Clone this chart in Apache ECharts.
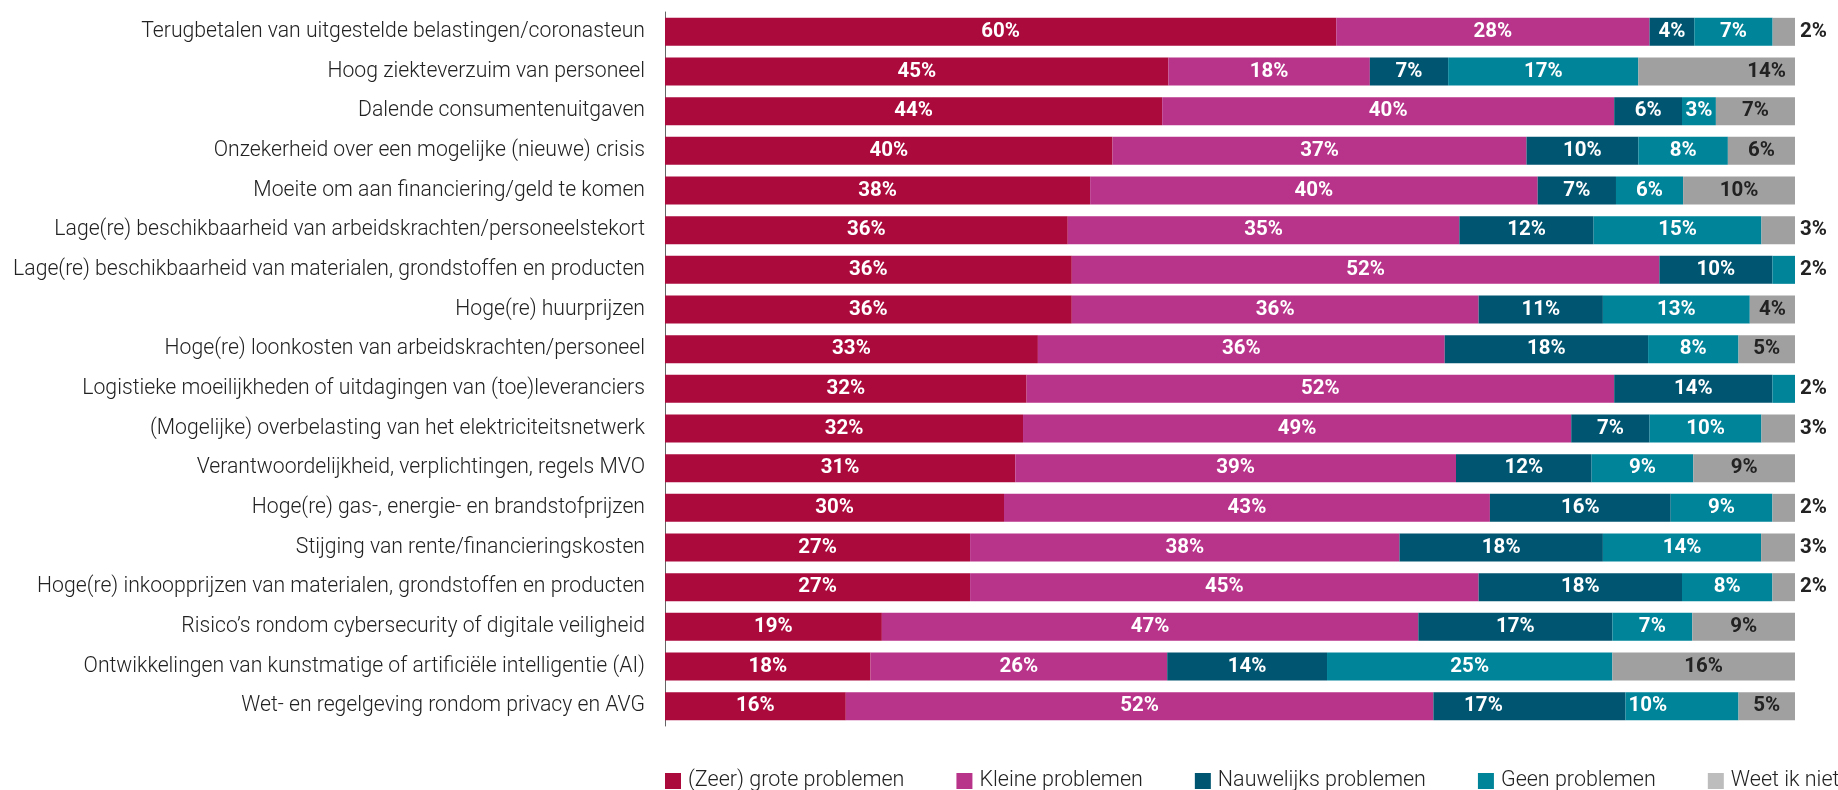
<!DOCTYPE html>
<html>
<head>
<meta charset="utf-8">
<script src="https://cdn.jsdelivr.net/npm/echarts@6/dist/echarts.min.js"></script>
<style>
  html, body { margin: 0; padding: 0; background: #fff; }
  #chart { width: 1838px; height: 790px; }
</style>
</head>
<body>
<div id="chart"></div>
<script>
// Knelpunten, top to bottom
const categories = [
  'Terugbetalen van uitgestelde belastingen/coronasteun',
  'Hoog ziekteverzuim van personeel',
  'Dalende consumentenuitgaven',
  'Onzekerheid over een mogelijke (nieuwe) crisis',
  'Moeite om aan financiering/geld te komen',
  'Lage(re) beschikbaarheid van arbeidskrachten/personeelstekort',
  'Lage(re) beschikbaarheid van materialen, grondstoffen en producten',
  'Hoge(re) huurprijzen',
  'Hoge(re) loonkosten van arbeidskrachten/personeel',
  'Logistieke moeilijkheden of uitdagingen van (toe)leveranciers',
  '(Mogelijke) overbelasting van het elektriciteitsnetwerk',
  'Verantwoordelijkheid, verplichtingen, regels MVO',
  'Hoge(re) gas-, energie- en brandstofprijzen',
  'Stijging van rente/financieringskosten',
  'Hoge(re) inkoopprijzen van materialen, grondstoffen en producten',
  'Risico’s rondom cybersecurity of digitale veiligheid',
  'Ontwikkelingen van kunstmatige of artificiële intelligentie (AI)',
  'Wet- en regelgeving rondom privacy en AVG'
];

const seriesNames = [
  '(Zeer) grote problemen',
  'Kleine problemen',
  'Nauwelijks problemen',
  'Geen problemen',
  'Weet ik niet'
];

// Percentages per answer (same order as categories)
const zeerGroot   = [60, 45, 44, 40, 38, 36, 36, 36, 33, 32, 32, 31, 30, 27, 27, 19, 18, 16];
const klein       = [28, 18, 40, 37, 40, 35, 52, 36, 36, 52, 49, 39, 43, 38, 45, 47, 26, 52];
const nauwelijks  = [ 4,  7,  6, 10,  7, 12, 10, 11, 18, 14,  7, 12, 16, 18, 18, 17, 14, 17];
const geen        = [ 7, 17,  3,  8,  6, 15,  2, 13,  8,  2, 10,  9,  9, 14,  8,  7, 25, 10];
const weetNiet    = [ 2, 14,  7,  6, 10,  3,  0,  4,  5,  0,  3,  9,  2,  3,  2,  9, 16,  5];

const valueSets = [zeerGroot, klein, nauwelijks, geen, weetNiet];
const colors = ['#AB0A3D', '#B8338A', '#005571', '#008499', '#A0A0A0'];
const legendColors = ['#AB0A3D', '#B8338A', '#005571', '#008499', '#BDBDBD'];
const labelColors = ['#fff', '#fff', '#fff', '#fff', '#222'];

// every row is drawn as a full 100% bar
const rowTotals = categories.map((_, i) => valueSets.reduce((s, arr) => s + arr[i], 0));

function lastNonZero(i) {
  for (let k = valueSets.length - 1; k >= 0; k--) if (valueSets[k][i] > 0) return k;
  return -1;
}

const series = valueSets.map((vals, k) => ({
  name: seriesNames[k],
  type: 'bar',
  stack: 'total',
  barWidth: 28,
  itemStyle: { color: colors[k] },
  label: {
    show: true,
    position: 'inside',
    color: labelColors[k],
    fontFamily: 'Roboto',
    fontWeight: 'bold',
    fontSize: 20.5
  },
  data: vals.map((v, i) => {
    const item = { value: v / rowTotals[i] * 100, raw: v };
    if (v === 0) {
      item.label = { show: false };
    } else if (lastNonZero(i) === k && v <= 3) {
      // narrow closing segment: value printed next to the bar
      item.label = { position: 'right', distance: 5, color: '#222' };
    }
    if (k === 4 && i === 1) item.label = { position: 'insideRight', distance: 9 };
    if (k === 2 && i === 17) item.label = { offset: [-46, 0] };
    if (k === 3 && i === 17) item.label = { position: 'insideLeft', distance: 3 };
    return item;
  })
}));

series.forEach(s => {
  s.label.formatter = p => p.data.raw + '%';
});

const chart = echarts.init(document.getElementById('chart'), null, { renderer: 'canvas' });
chart.setOption({
  animation: false,
  textStyle: { fontFamily: 'Roboto' },
  grid: { left: 665, right: 43, top: 12, bottom: 64, containLabel: false },
  xAxis: {
    type: 'value',
    min: 0,
    max: 100,
    show: false
  },
  yAxis: {
    type: 'category',
    data: categories,
    inverse: true,
    axisLine: { show: true, lineStyle: { color: '#666', width: 1 } },
    axisTick: { show: false },
    axisLabel: {
      color: '#222',
      fontFamily: 'Roboto',
      fontWeight: 300,
      fontSize: 21.2,
      margin: 20
    }
  },
  legend: {
    left: 665,
    top: 770,
    width: 1250,
    padding: 0,
    itemWidth: 16,
    itemHeight: 16,
    itemGap: 52,
    icon: 'rect',
    textStyle: { color: '#222', fontFamily: 'Roboto', fontWeight: 300, fontSize: 21.5, padding: [0, 0, 0, 2] },
    data: seriesNames.map((n, k) => ({ name: n, itemStyle: { color: legendColors[k] } }))
  },
  series: series
});
</script>
</body>
</html>
